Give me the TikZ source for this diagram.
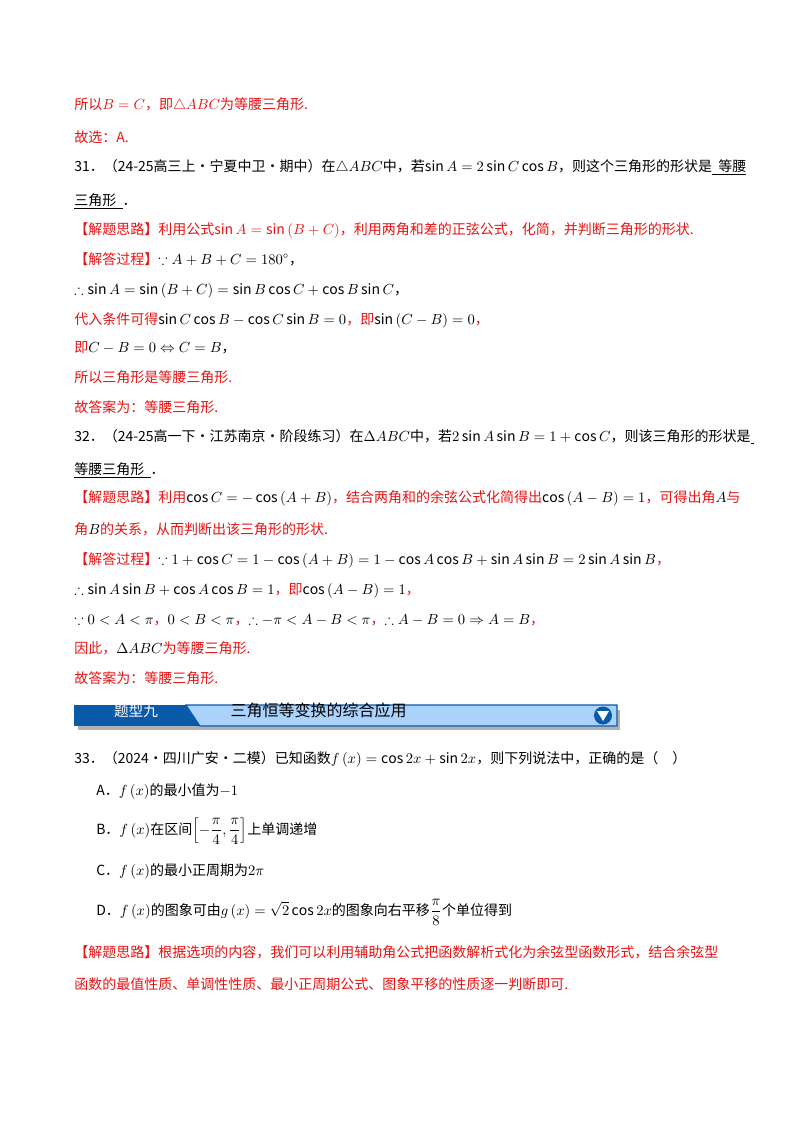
\documentclass[tikz,border=0pt]{standalone}
\usepackage{fontspec}
\setmainfont{Noto Sans CJK SC}
\usepackage{amsmath,amssymb}
\definecolor{rd}{RGB}{230,20,20}
\definecolor{dblue}{RGB}{10,90,170}
\definecolor{lblue}{RGB}{170,210,250}
\begin{document}
\begin{tikzpicture}[x=0.75pt,y=-0.75pt,
  ln/.style={anchor=base west,inner sep=0pt,font=\fontsize{10.5}{12}\selectfont},
  rl/.style={ln,text=rd}]
\useasboundingbox (0,0) rectangle (800,1132);
\fill[white] (0,0) rectangle (800,1132);
\node[rl] (l1) at (74,109) {所以$B=C$，即$\triangle ABC$为等腰三角形.};
\node[rl] (l2) at (74,142) {故选：A.};
\node[ln] (l3) at (74,171) {31．（24-25高三上·宁夏中卫·期中）在$\triangle ABC$中，若$\sin A=2\sin C\cos B$，则这个三角形的形状是\underline{\ \ 等腰}};
\node[ln] (l4) at (74,205) {\underline{三角形\ \ }．};
\node[rl] (l5) at (74,234) {【解题思路】利用公式$\sin A=\sin\left(B+C\right)$，利用两角和差的正弦公式，化简，并判断三角形的形状.};
\node[rl] (l6) at (74,264) {【解答过程】\textcolor{black}{$\because A+B+C=180^\circ$，}};
\node[ln] (l7) at (74,294) {$\therefore\sin A=\sin\left(B+C\right)=\sin B\cos C+\cos B\sin C$，};
\node[rl] (l8) at (74,324) {代入条件可得\textcolor{black}{$\sin C\cos B-\cos C\sin B=0$}，即\textcolor{black}{$\sin\left(C-B\right)=0$}，};
\node[ln] (l9) at (74,352) {\textcolor{rd}{即}$C-B=0\Leftrightarrow C=B$，};
\node[rl] (l10) at (74,382) {所以三角形是等腰三角形.};
\node[rl] (l11) at (74,412) {故答案为：等腰三角形.};
\node[ln] (l12) at (74,441) {32．（24-25高一下·江苏南京·阶段练习）在$\Delta ABC$中，若$2\sin A\sin B=1+\cos C$，则该三角形的形状是\underline{\ }};
\node[ln] (l13) at (74,474) {\underline{等腰三角形\ \ }．};
\node[rl] (l14) at (74,502) {【解题思路】利用\textcolor{black}{$\cos C=-\cos\left(A+B\right)$}，结合两角和的余弦公式化简得出\textcolor{black}{$\cos\left(A-B\right)=1$}，可得出角\textcolor{black}{$A$}与};
\node[rl] (l15) at (74,534) {角\textcolor{black}{$B$}的关系，从而判断出该三角形的形状.};
\node[rl] (l16) at (74,564) {【解答过程】\textcolor{black}{$\because 1+\cos C=1-\cos\left(A+B\right)=1-\cos A\cos B+\sin A\sin B=2\sin A\sin B$}，};
\node[ln] (l17) at (74,594) {$\therefore\sin A\sin B+\cos A\cos B=1$\textcolor{rd}{，即}$\cos\left(A-B\right)=1$\textcolor{rd}{，}};
\node[ln] (l18) at (74,624) {$\because 0<A<\pi$\textcolor{rd}{，}$0<B<\pi$\textcolor{rd}{，}$\therefore -\pi<A-B<\pi$\textcolor{rd}{，}$\therefore A-B=0\Rightarrow A=B$\textcolor{rd}{，}};
\node[rl] (l19) at (74,653) {因此，\textcolor{black}{$\Delta ABC$}为等腰三角形.};
\node[rl] (l20) at (74,683) {故答案为：等腰三角形.};
% banner
\fill[gray!60] (78,710) rectangle (620,730);
\fill[dblue] (74,705) rectangle (196,726);
\fill[dblue] (196,705) -- (188,705) -- (200,726) -- (196,726) -- cycle;
\fill[lblue,draw=dblue,line width=0.8pt] (186,705) -- (617,705) -- (617,726) -- (200,726) -- cycle;
\node[anchor=center,text=white,font=\fontsize{11}{12}\selectfont] (bt) at (136,711) {题型九};
\node[anchor=west,font=\fontsize{12}{13}\selectfont] (bt2) at (226,710) {三角恒等变换的综合应用};
\fill[dblue] (603,715.5) circle (9);
\fill[white] (597,711) -- (609,711) -- (603,721) -- cycle;
\node[ln] (q33) at (74,763) {33．（2024·四川广安·二模）已知函数$f\left(x\right)=\cos2x+\sin2x$，则下列说法中，正确的是（\quad）};
\node[ln] (oa) at (96,795) {A．$f\left(x\right)$的最小值为$-1$};
\node[ln] (ob) at (96,834) {B．$f\left(x\right)$在区间$\left[-\dfrac{\pi}{4},\dfrac{\pi}{4}\right]$上单调递增};
\node[ln] (oc) at (96,875) {C．$f\left(x\right)$的最小正周期为$2\pi$};
\node[ln] (od) at (96,915) {D．$f\left(x\right)$的图象可由$g\left(x\right)=\sqrt{2}\cos2x$的图象向右平移$\dfrac{\pi}{8}$个单位得到};
\node[rl] (s1) at (74,957) {【解题思路】根据选项的内容，我们可以利用辅助角公式把函数解析式化为余弦型函数形式，结合余弦型};
\node[rl] (s2) at (74,989) {函数的最值性质、单调性性质、最小正周期公式、图象平移的性质逐一判断即可.};
\end{tikzpicture}
\end{document}
